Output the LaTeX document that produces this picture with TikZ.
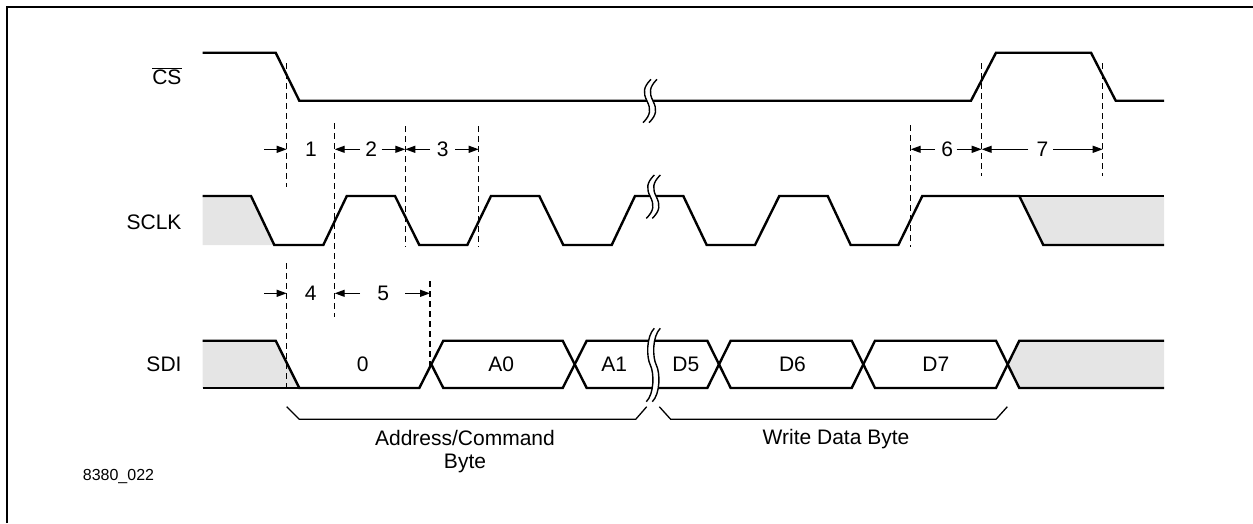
\documentclass[tikz,border=0pt]{standalone}
\usepackage{fontspec}
\setmainfont{Liberation Sans}
\usetikzlibrary{arrows.meta}
\newcommand\brkmark[3]{%
  \begin{scope}[shift={(#1,#2)}]
    \fill[white] (1,-#3) .. controls (-7,{-#3+8}) and (-7,-8) .. (-3,0) .. controls (1,8) and (1,{#3-8}) .. (-7,#3)
      -- (-1,#3) .. controls (7,{#3-8}) and (7,8) .. (3,0) .. controls (-1,-8) and (-1,{-#3+8}) .. (7,-#3) -- cycle;
    \draw[brkline] (1,-#3) .. controls (-7,{-#3+8}) and (-7,-8) .. (-3,0) .. controls (1,8) and (1,{#3-8}) .. (-7,#3);
    \draw[brkline] (7,-#3) .. controls (-1,{-#3+8}) and (-1,-8) .. (3,0) .. controls (7,8) and (7,{#3-8}) .. (-1,#3);
  \end{scope}}
\begin{document}
\begin{tikzpicture}[x=1pt,y=-1pt,
  sig/.style={line width=2.4pt, line join=miter},
  dsh/.style={line width=1.2pt, dash pattern=on 6pt off 4pt},
  dimarr/.style={line width=1.3pt, -{Triangle[length=10pt,width=7pt]}},
  brc/.style={line width=1.3pt},
  brkline/.style={line width=1.4pt},
  lbl/.style={font=\fontsize{21}{25}\selectfont, inner sep=0pt},
  grayfill/.style={fill=black!10},
  ]
\useasboundingbox (0,0) rectangle (1253,523);
% frame (left and top)
\draw[line width=2pt] (7,523) -- (7,7) -- (1253,7);

% signal names
\node[lbl, anchor=base east] (cs) at (181.7,84) {$\overline{\mbox{CS}}$};
\node[lbl, anchor=base east] (sclk) at (181.7,229) {SCLK};
\node[lbl, anchor=base east] (sdi) at (181.7,371.5) {SDI};
\node[font=\fontsize{16}{19}\selectfont, inner sep=0pt, anchor=base west] (fig) at (82.7,480.7) {8380\_022};

% shaded areas
\fill[grayfill] (202.7,196) -- (251,196) -- (274.3,245) -- (202.7,245) -- cycle;
\fill[grayfill] (1019.3,196) -- (1164,196) -- (1164,245) -- (1043.3,245) -- cycle;
\fill[grayfill] (202.7,340.7) -- (275.7,340.7) -- (299.3,388) -- (202.7,388) -- cycle;
\fill[grayfill] (1007.65,364.3) -- (1019.3,340.7) -- (1164,340.7) -- (1164,388) -- (1019.3,388) -- cycle;

% CS
\draw[sig] (202.7,52.7) -- (275.7,52.7) -- (299.3,100.7) -- (971,100.7) -- (996,52.7) -- (1091,52.7) -- (1115.7,100.7) -- (1164,100.7);

% SCLK
\draw[sig] (202.7,196) -- (251,196) -- (274.3,245) -- (323.3,245) -- (346.8,196) -- (395,196) -- (419.3,245)
  -- (467.3,245) -- (491,196) -- (539.3,196) -- (563.3,245) -- (611.7,245) -- (635,196) -- (683.3,196)
  -- (706.7,245) -- (755,245) -- (779.3,196) -- (827.7,196) -- (850.7,245) -- (898.3,245) -- (922.3,196)
  -- (1019.3,196) -- (1043.3,245) -- (1164,245);
\draw[sig] (1019.3,196) -- (1164,196);

% SDI
\draw[sig] (202.7,340.7) -- (275.7,340.7) -- (299.3,388) -- (419.3,388) -- (443.3,340.7) -- (562.7,340.7)
  -- (586.7,388) -- (707.3,388) -- (730.7,340.7) -- (851.7,340.7) -- (875,388) -- (996,388)
  -- (1019.3,340.7) -- (1164,340.7);
\draw[sig] (202.7,388) -- (299.3,388);
\draw[sig] (431.3,364.3) -- (443.3,388) -- (562.7,388) -- (586.7,340.7) -- (707.3,340.7) -- (730.7,388)
  -- (851.7,388) -- (875,340.7) -- (996,340.7) -- (1019.3,388) -- (1164,388);

% break marks
\brkmark{650}{101}{21.7}
\brkmark{653.3}{196.7}{21.7}
\brkmark{653.3}{365}{36.7}

% dashed reference lines
\draw[dsh] (286.7,63) -- (286.7,187);
\draw[dsh] (286.7,263) -- (286.7,387);
\draw[dsh] (334.7,123) -- (334.7,317);
\draw[dsh] (405.3,126) -- (405.3,247);
\draw[dsh] (478.7,126) -- (478.7,247);
\draw[dsh] (430,281) -- (430,367);
\draw[dsh] (910.7,125) -- (910.7,247);
\draw[dsh] (981.7,63) -- (981.7,176);
\draw[dsh] (1102.7,63) -- (1102.7,176);

% dimension arrows row 1
\draw[dimarr] (264,149.3) -- (286.7,149.3);
\node[lbl, anchor=base] (t1) at (311,156.5) {1};
\draw[dimarr] (360,149.3) -- (334.7,149.3);
\node[lbl, anchor=base] (t2) at (371.3,156.5) {2};
\draw[dimarr] (381.7,149.3) -- (405.3,149.3);
\draw[dimarr] (430,149.3) -- (405.3,149.3);
\node[lbl, anchor=base] (t3) at (442.8,156.5) {3};
\draw[dimarr] (455,149.3) -- (478.7,149.3);
\draw[dimarr] (935,149.3) -- (910.7,149.3);
\node[lbl, anchor=base] (t6) at (947.2,156.5) {6};
\draw[dimarr] (956.7,149.3) -- (981.7,149.3);
\draw[dimarr] (1028.3,149.3) -- (981.7,149.3);
\node[lbl, anchor=base] (t7) at (1042.5,156.5) {7};
\draw[dimarr] (1053.3,149.3) -- (1102.7,149.3);

% dimension arrows row 2
\draw[dimarr] (264,293.3) -- (286.7,293.3);
\node[lbl, anchor=base] (t4) at (310.8,300.5) {4};
\draw[dimarr] (360,293.3) -- (334.7,293.3);
\node[lbl, anchor=base] (t5) at (383.2,300.5) {5};
\draw[dimarr] (405,293.3) -- (430,293.3);

% data labels
\node[lbl, anchor=base] (d0) at (362.7,371.5) {0};
\node[lbl, anchor=base] (a0) at (501.3,371.5) {A0};
\node[lbl, anchor=base] (a1) at (614.3,371.5) {A1};
\node[lbl, anchor=base] (d5) at (685.8,371.5) {D5};
\node[lbl, anchor=base] (d6) at (792.5,371.5) {D6};
\node[lbl, anchor=base] (d7) at (935.8,371.5) {D7};

% braces
\draw[brc] (286.7,406.7) -- (299.3,419.3) -- (635.7,419.3) -- (646.7,406.7);
\draw[brc] (659.3,406.7) -- (670.7,419.3) -- (996,419.3) -- (1007.3,406.7);
\node[lbl, anchor=base] (addr) at (465,445) {Address/Command};
\node[lbl, anchor=base] (byte) at (465,468) {Byte};
\node[lbl, anchor=base] (wdb) at (836,444) {Write Data Byte};
\end{tikzpicture}
\end{document}
